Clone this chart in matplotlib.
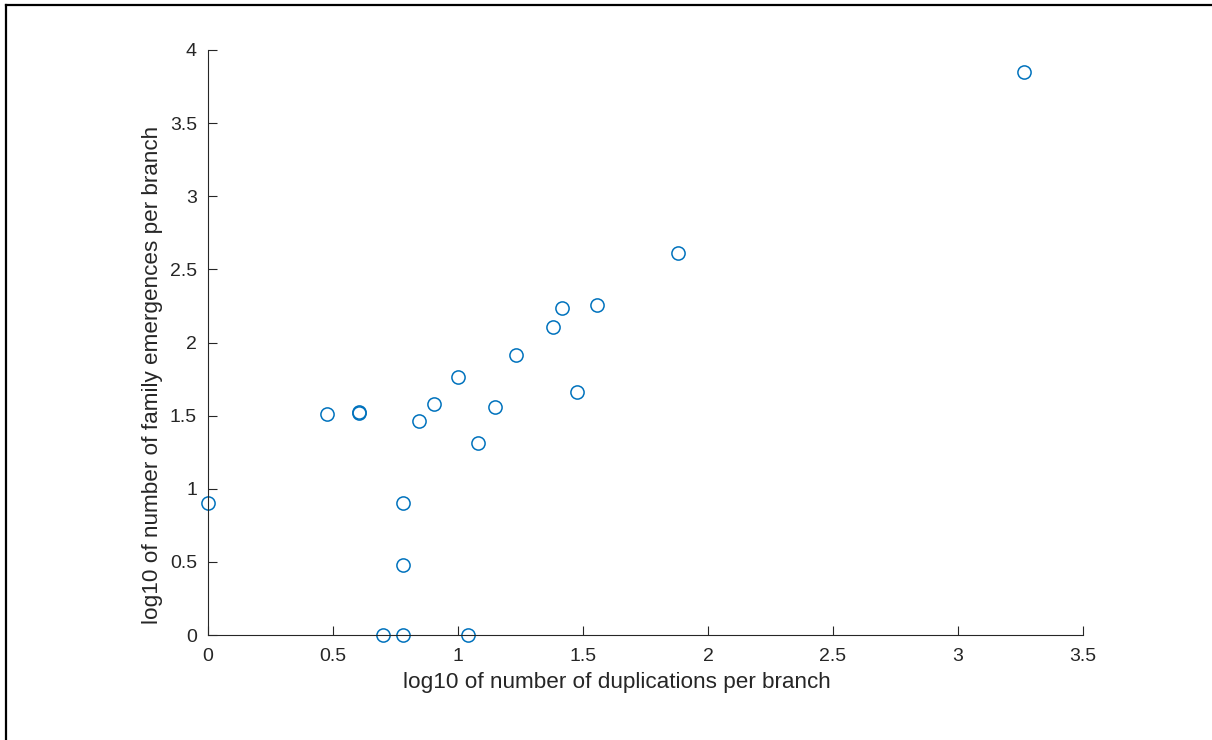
import matplotlib
matplotlib.use("Agg")
import matplotlib.pyplot as plt
from matplotlib.lines import Line2D

plt.rcParams['font.family'] = ['Liberation Sans', 'DejaVu Sans']

# log10 duplications / emergences per branch
dup = [0.0, 0.477, 0.602, 0.602, 0.699, 0.778, 0.778, 0.778, 0.845, 0.903,
       1.0, 1.041, 1.079, 1.146, 1.230, 1.380, 1.415, 1.477, 1.556, 1.881, 3.262]
emg = [0.903, 1.511, 1.519, 1.525, 0.0, 0.0, 0.903, 0.477, 1.462, 1.580,
       1.763, 0.0, 1.316, 1.556, 1.914, 2.104, 2.236, 1.663, 2.255, 2.612, 3.850]

xticks = [0, 0.5, 1, 1.5, 2, 2.5, 3, 3.5]
yticks = [0, 0.5, 1, 1.5, 2, 2.5, 3, 3.5, 4]

fig = plt.figure(figsize=(12.12, 7.4), dpi=100)
ax = fig.add_axes([208/1212, 1-635/740, 875/1212, 585/740])

ax.plot(dup, emg, 'o', mfc='none', mec='#0072BD', ms=9.5, mew=1.1, clip_on=False)

ax.set_xlim(0, 3.5)
ax.set_ylim(0, 4)
ax.set_xticks(xticks)
ax.set_yticks(yticks)
ax.set_xticklabels(['0', '0.5', '1', '1.5', '2', '2.5', '3', '3.5'])
ax.set_yticklabels(['0', '0.5', '1', '1.5', '2', '2.5', '3', '3.5', '4'])
for s in ['top', 'right']:
    ax.spines[s].set_visible(False)
for s in ['left', 'bottom']:
    ax.spines[s].set_color('#262626')
    ax.spines[s].set_linewidth(0.8)
ax.tick_params(direction='in', length=6.5, width=0.8, colors='#262626',
               labelsize=14)
ax.tick_params(axis='x', pad=9.5)
ax.tick_params(axis='y', pad=8)
ax.set_xlabel('log10 of number of duplications per branch', fontsize=16.2,
              color='#262626')
ax.set_ylabel('log10 of number of family emergences per branch', fontsize=16.2,
              color='#262626')
# labels sit a bit toward the origin, as in the original
ax.xaxis.set_label_coords(0.467, -0.064)
ax.yaxis.set_label_coords(-0.051, 0.444)

# frame edge at top and left
fig.add_artist(Line2D([6/1212, 1], [1-5/740, 1-5/740], color='black', lw=1.6))
fig.add_artist(Line2D([6/1212, 6/1212], [0, 1-5/740], color='black', lw=1.6))

fig.savefig('out.png', dpi=100)
